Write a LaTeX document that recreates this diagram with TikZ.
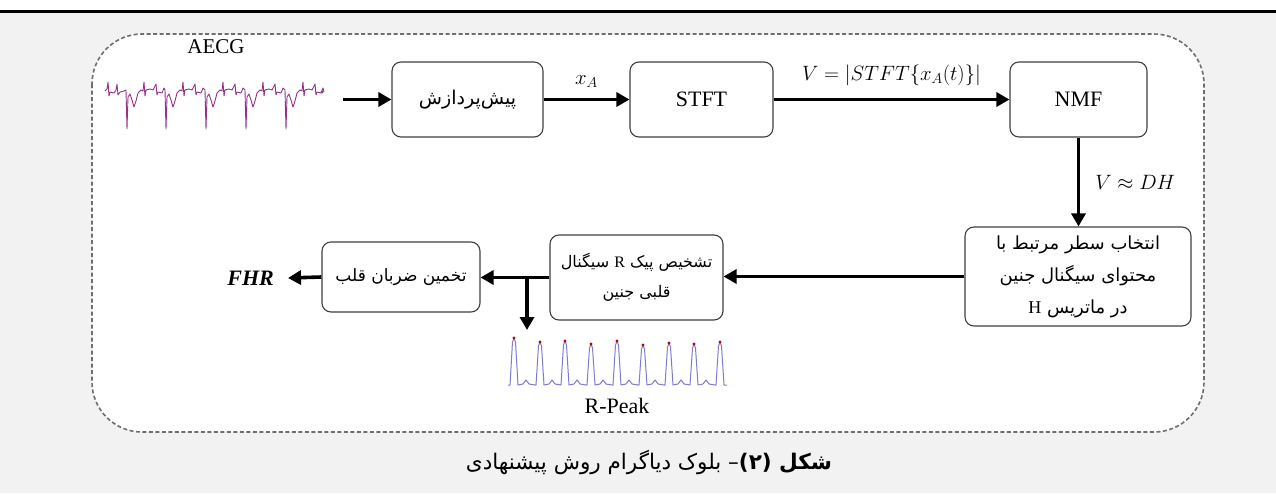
\documentclass[tikz,border=0pt]{standalone}
\usepackage{fontspec}
\setmainfont{Liberation Serif}
\newfontfamily\fafont[Script=Arabic]{DejaVu Sans}
\usetikzlibrary{arrows.meta}
\TeXXeTstate=1
\newcommand\fa[1]{{\fafont\beginR #1\endR}}
\definecolor{pagebg}{HTML}{F2F2F2}
\definecolor{ecgpurple}{RGB}{150,50,135}
\definecolor{rpblue}{RGB}{125,125,205}
\definecolor{framegray}{HTML}{6E6E6E}

\begin{document}
\begin{tikzpicture}[x=1pt,y=-1pt,
  blk/.style={draw=black!75, line width=1.1pt, rounded corners=9pt, fill=white,
              align=center, inner sep=2pt, font=\fontsize{22}{26}\selectfont},
  fablk/.style={blk, font=\fafont\fontsize{17}{31}\selectfont},
  flow/.style={line width=3.6pt, -{Triangle[length=13pt,width=14pt]}},
  lbl/.style={font=\fontsize{21}{24}\selectfont, inner sep=1pt},
]
\useasboundingbox (0,0) rectangle (1276,493);

% page background and top rule
\fill[white] (0,0) rectangle (1276,11);
\fill[pagebg] (0,11) rectangle (1276,493);
\draw[line width=3pt] (0,11) -- (1276,11);

% dashed frame around the block diagram
\draw[framegray, line width=1.6pt, dash pattern=on 4pt off 2.5pt, fill=white,
      rounded corners=50pt] (92,34) rectangle (1204,432);

% blocks
\node[fablk, font=\fafont\fontsize{19}{24}\selectfont, minimum width=151pt, minimum height=75pt]
  (pre) at (467.5,99.5) {\fa{پیش‌پردازش}};
\node[blk, minimum width=143pt, minimum height=75pt] (stft) at (701.5,99.5) {STFT};
\node[blk, minimum width=137pt, minimum height=75pt] (nmf) at (1078.5,99.5) {NMF};
\node[fablk, font=\fafont\fontsize{18}{32}\selectfont, minimum width=226pt, minimum height=99pt]
  (sel) at (1078,276.5)
  {\fa{انتخاب سطر مرتبط با}\\ \fa{محتوای سیگنال جنین}\\ \fa{در ماتریس {\rmfamily H}}};
\node[fablk, font=\fafont\fontsize{16}{30}\selectfont, minimum width=173pt, minimum height=85pt]
  (det) at (636.5,277.5)
  {\fa{تشخیص پیک {\rmfamily R} سیگنال}\\ \fa{قلبی جنین}};
\node[fablk, minimum width=158pt, minimum height=70pt] (est) at (401,277) {\fa{تخمین ضربان قلب}};

% input signal (abdominal ECG)
\node[font=\fontsize{21}{24}\selectfont] (aecg) at (216,47) {AECG};
\draw[ecgpurple, line width=0.9pt, line join=round]
  (105,91) -- (107,89) -- (108,82) -- (109,96) -- (110,92) -- (114,93) -- (116,90)
  -- (117,84) -- (118,95) -- (120,92) -- (124,91)
  \foreach \m in {127,166,206,246,286} {
    -- ({\m-1},90) -- (\m,129) -- ({\m+1},97) -- ({\m+3},94) -- ({\m+5},100)
    -- ({\m+7},107) -- ({\m+9},101) -- ({\m+11},93) -- ({\m+14},90) -- ({\m+16},91)
    -- ({\m+17},82) -- ({\m+18},96) -- ({\m+19},90) -- ({\m+23},89) -- ({\m+26},90)
    -- ({\m+29},84) -- ({\m+30},95) -- ({\m+31},92) -- ({\m+35},93) -- ({\m+37},88)
  } -- (324,92);
\fill[ecgpurple] (322,92) circle (1.6pt);
\coordinate (ecgout) at (343,99.5);

% main flow
\draw[flow] (ecgout) -- (pre.west);
\draw[flow] (pre.east) -- node[lbl, above=9pt] {$x_A$} (stft.west);
\draw[flow] (stft.east) -- node[lbl, above=11pt] {$V=|STFT\{x_A(t)\}|$} (nmf.west);
\draw[flow] (nmf.south) -- node[lbl, right=14pt] {$V\approx DH$} (nmf.south |- sel.north);
\draw[flow] (sel.west) -- (sel.west -| det.east);
\draw[flow] (det.west) -- (det.west -| est.east);

% branch to the detected R peaks
\coordinate (jn) at (527,276);
\coordinate (rpin) at (527,330);
\draw[flow] (jn) -- (rpin);

% output
\node[font=\bfseries\itshape\fontsize{22}{26}\selectfont, anchor=east, inner xsep=14pt]
  (fhr) at (288,278) {FHR};
\draw[flow] (est.west) -- (fhr.east);

% R-peak trace with markers
\draw[rpblue, line width=1pt, line join=round] (508,385)
  \foreach \x/\h in {514/338,540/342,565/341,591/344,617/341,643/345,669/343,694/344} {
    -- ({\x-4},385) -- ({\x-1.5},{\h+4}) -- (\x,\h) -- ({\x+1.5},{\h+4}) -- ({\x+4},385)
    -- ({\x+9},384) -- ({\x+12},380) -- ({\x+15},384) -- ({\x+21},385)
  } -- (716,385) -- (718.5,346) -- (720,342) -- (721.5,346) -- (724,385) -- (727,385);
\foreach \x/\h in {514/338,540/342,565/341,591/344,617/341,643/345,669/343,694/344,720/342}
  \fill[red!75!black] (\x,\h) circle (1.7pt);
\node[font=\fontsize{22}{26}\selectfont] (rpeak) at (617,406) {R-Peak};

% caption
\node[font=\fafont\fontsize{21.5}{24}\selectfont] (cap) at (649,462)
  {\beginR{\bfseries شکل (۲)}– بلوک دیاگرام روش پیشنهادی\endR};
\end{tikzpicture}
\end{document}
